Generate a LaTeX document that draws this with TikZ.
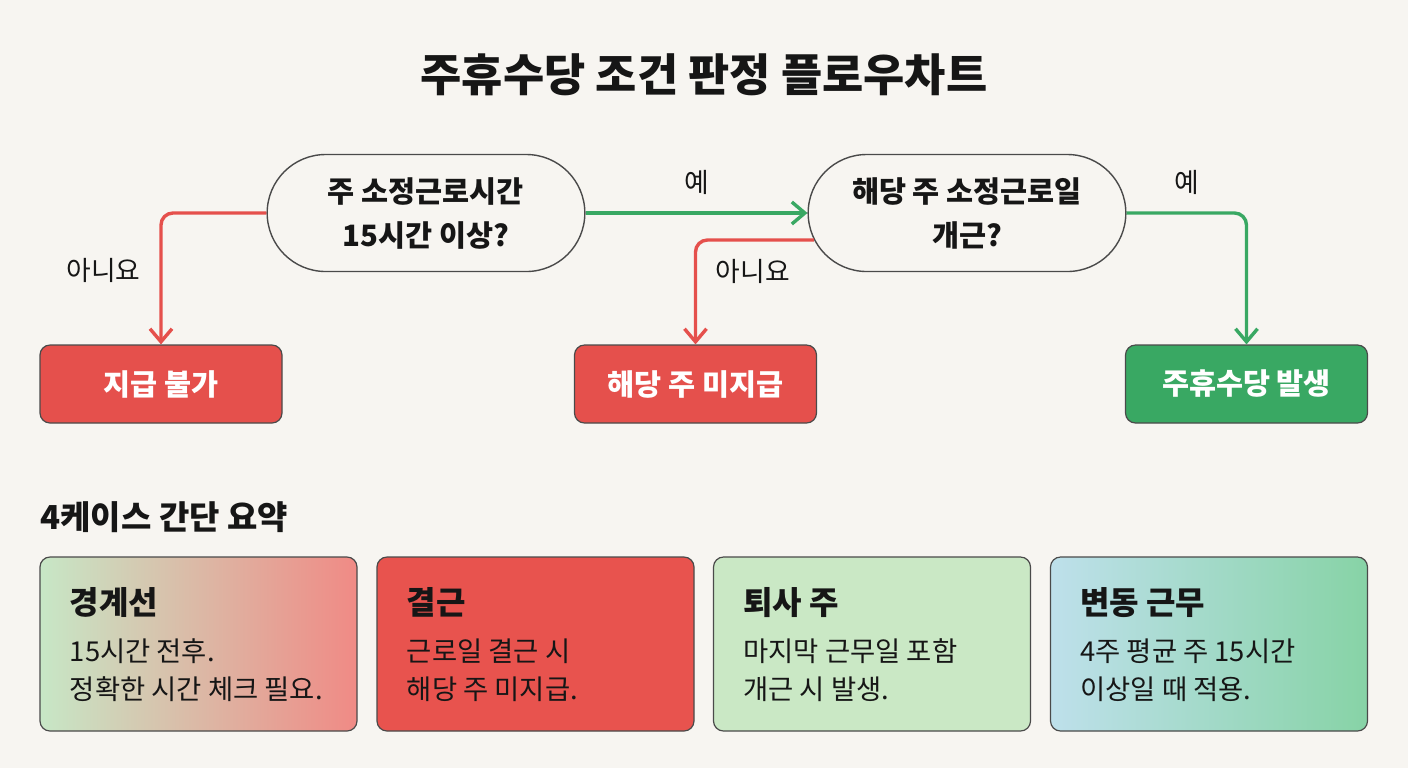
\documentclass[tikz,border=0pt]{standalone}
\usepackage{fontspec}
\setmainfont{Noto Sans CJK KR}
\usetikzlibrary{shapes.misc,arrows.meta}
\definecolor{bg}{HTML}{F7F5F1}
\definecolor{edge}{HTML}{4A4A4A}
\definecolor{ink}{HTML}{161616}
\definecolor{nored}{HTML}{E5504C}
\definecolor{yesgreen}{HTML}{39A863}
\definecolor{leafgreen}{HTML}{C7E7C6}
\definecolor{sand}{HTML}{D9C8A7}
\definecolor{rose}{HTML}{F08A85}
\definecolor{cardred}{HTML}{E8534E}
\definecolor{mint}{HTML}{CAE8C5}
\definecolor{sky}{HTML}{BEE0EB}
\definecolor{jade}{HTML}{87D3A6}
\begin{document}
\begin{tikzpicture}[x=0.5pt,y=-0.5pt,text=ink,
  decision/.style={rounded rectangle,draw=edge,line width=0.7pt,fill=bg,minimum width=165.5pt,
    minimum height=58.5pt,align=center,font=\bfseries\fontsize{14.7}{22}\selectfont},
  result/.style={draw=edge,line width=0.6pt,rounded corners=5pt,minimum width=121pt,
    minimum height=39pt,text=white,font=\bfseries\fontsize{14.7}{17}\selectfont},
  card/.style={draw=edge,line width=0.6pt,rounded corners=5pt,minimum width=158.5pt,minimum height=87pt},
  flow/.style={line width=1.7pt,rounded corners=6pt,-{Straight Barb[length=6.5pt,width=11pt]}},
  lbl/.style={text=ink,font=\fontsize{13.4}{15}\selectfont},
  shade1/.style={left color=leafgreen,middle color=sand,right color=rose},
  shade2/.style={fill=cardred},
  shade3/.style={fill=mint},
  shade4/.style={left color=sky,right color=jade}]
\fill[bg] (0,0) rectangle (1408,768);
\node[font=\bfseries\fontsize{22.4}{26}\selectfont] (title) at (704,75) {주휴수당 조건 판정 플로우차트};
\node[decision] (q1) at (426,213) {주 소정근로시간\\15시간 이상?};
\node[decision] (q2) at (967,213) {해당 주 소정근로일\\개근?};
\node[result,fill=nored] (r1) at (161,384) {지급 불가};
\node[result,fill=nored] (r2) at (695.5,384) {해당 주 미지급};
\node[result,fill=yesgreen] (r3) at (1246.5,384) {주휴수당 발생};
\draw[flow,nored] (q1.west) -| node[lbl,pos=0.72,left=6pt] {아니요} (r1.north);
\draw[flow,yesgreen] (q1.east) -- node[lbl,above=5pt] {예} (q2.west);
\draw[flow,nored] (q2.190) -| node[lbl,pos=0.65,right=6pt] {아니요} (r2.north);
\draw[flow,yesgreen] (q2.east) -| node[lbl,pos=0.25,above=5pt] {예} (r3.north);
\node[anchor=west,inner sep=0pt,font=\bfseries\fontsize{16.5}{19}\selectfont] (summary) at (40,517) {4케이스 간단 요약};
\foreach \i/\x/\head/\body in {
  1/198.5/경계선/{15시간 전후.\\정확한 시간 체크 필요.},
  2/535.5/결근/{근로일 결근 시\\해당 주 미지급.},
  3/872/퇴사 주/{마지막 근무일 포함\\개근 시 발생.},
  4/1209/변동 근무/{4주 평균 주 15시간\\이상일 때 적용.}}{
  \node[card,shade\i] (c\i) at (\x,644) {};
  \node[anchor=west,inner sep=0pt,font=\bfseries\fontsize{16}{19}\selectfont] (c\i-head)
    at ([xshift=15pt,yshift=-23pt]c\i.north west) {\head};
  \node[anchor=west,inner sep=0pt,align=left,font=\fontsize{13.7}{19}\selectfont] (c\i-body)
    at ([xshift=15pt,yshift=-57pt]c\i.north west) {\body};
}
\end{tikzpicture}
\end{document}
